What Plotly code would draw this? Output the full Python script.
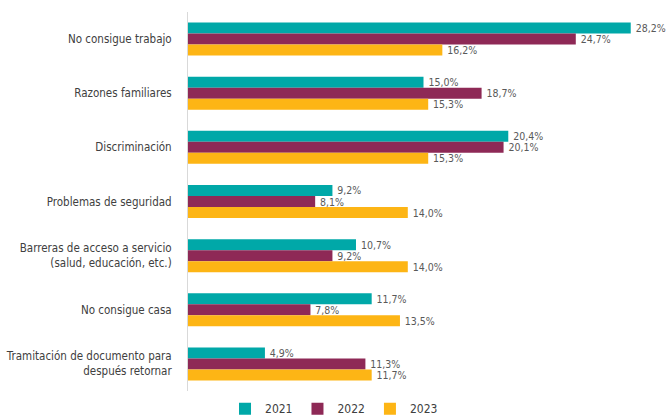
import plotly.graph_objects as go

categories = [
    "No consigue trabajo",
    "Razones familiares",
    "Discriminación",
    "Problemas de seguridad",
    "Barreras de acceso a servicio<br>(salud, educación, etc.)",
    "No consigue casa",
    "Tramitación de documento para<br>después retornar",
]
years = ["2021", "2022", "2023"]
v2021 = [28.2, 15.0, 20.4, 9.2, 10.7, 11.7, 4.9]
v2022 = [24.7, 18.7, 20.1, 8.1, 9.2, 7.8, 11.3]
v2023 = [16.2, 15.3, 15.3, 14.0, 14.0, 13.5, 11.7]
colors = ["#00A8A8", "#8E2956", "#FDB515"]

FONT = "DejaVu Sans Condensed, Roboto, sans-serif"

fig = go.Figure()
for name, vals, col in zip(years, [v2021, v2022, v2023], colors):
    fig.add_trace(go.Bar(
        y=categories, x=vals, name=name, orientation="h",
        marker=dict(color=col, line=dict(width=0)),
        texttemplate="\u2009%{x:.1f}%", textposition="outside",
        constraintext="none",
        textfont=dict(family=FONT, size=10.5, color="#595959"),
        cliponaxis=False,
    ))

fig.update_layout(
    width=669, height=419,
    margin=dict(l=188, r=10, t=12, b=28, autoexpand=False),
    barmode="group", bargap=0.39, bargroupgap=0,
    separators=",.",
    plot_bgcolor="white", paper_bgcolor="white",
    font=dict(family=FONT, size=11.5, color="#404040"),
    showlegend=True,
    legend=dict(orientation="h", x=0.31, xanchor="center", y=-0.085, yanchor="bottom",
                font=dict(family=FONT, size=12, color="#404040"),
                itemwidth=30, itemsizing="constant", traceorder="normal"),
    xaxis=dict(range=[0, 30], visible=False, automargin=False),
    yaxis=dict(autorange="reversed", showline=True, linecolor="#D9D9D9", linewidth=1,
               ticks="", ticklabelstandoff=13, showgrid=False, automargin=False),
)

fig.write_html("out.html", config={"displayModeBar": False},
               post_script="document.body.style.margin='0';")
